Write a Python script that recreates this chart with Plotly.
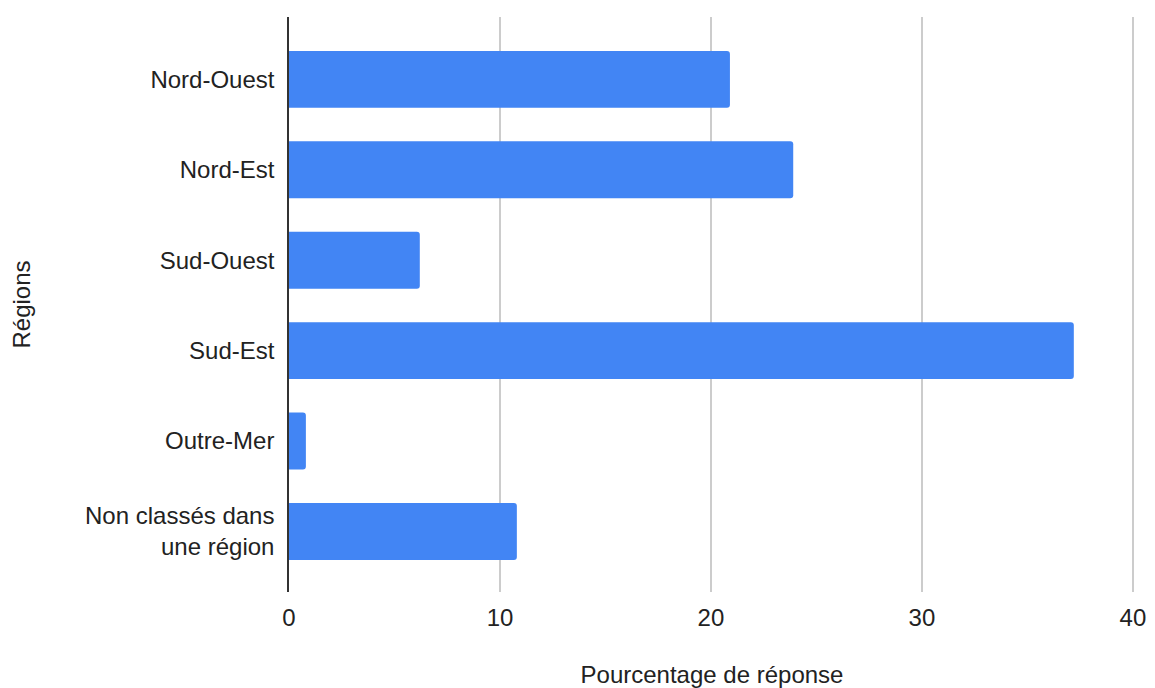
import plotly.graph_objects as go

regions = [
    "Nord-Ouest",
    "Nord-Est",
    "Sud-Ouest",
    "Sud-Est",
    "Outre-Mer",
    "Non classés dans<br>une région",
]
pourcentages = [20.9, 23.9, 6.2, 37.2, 0.8, 10.8]

x_ticks = [0, 10, 20, 30, 40]

# the page body adds an 8px margin, so the figure is sized to fit inside it
fig = go.Figure()
fig.add_trace(
    go.Bar(
        x=pourcentages,
        y=regions,
        orientation="h",
        marker={"color": "#4285F4", "line": {"width": 0}},
        width=0.63,
        hoverinfo="x+y",
    )
)

fig.update_layout(
    width=1139,
    height=680,
    margin={"l": 281, "r": 12, "t": 9, "b": 96},
    plot_bgcolor="white",
    paper_bgcolor="white",
    font={"family": "Liberation Sans, Arial, sans-serif", "size": 24, "color": "#222222"},
    showlegend=False,
    barcornerradius=3,
    xaxis={
        "range": [0, 40.1],
        "tickvals": x_ticks,
        "tickfont": {"size": 24},
        "showgrid": True,
        "gridcolor": "#cccccc",
        "gridwidth": 1.5,
        "zeroline": False,
        "showline": False,
        "ticks": "",
        "ticklabelstandoff": 9,
        "automargin": False,
        "title": {"text": "Pourcentage de réponse", "standoff": 36, "font": {"size": 24}},
    },
    yaxis={
        "categoryorder": "array",
        "categoryarray": regions,
        "range": [5.67, -0.69],
        "tickfont": {"size": 24},
        "showgrid": False,
        "showline": True,
        "linecolor": "#333333",
        "linewidth": 1.5,
        "ticks": "",
        "ticklabelstandoff": 8,
        "automargin": False,
        "title": {"text": "Régions", "standoff": 58, "font": {"size": 24}},
    },
)

fig.write_html("out.html")
